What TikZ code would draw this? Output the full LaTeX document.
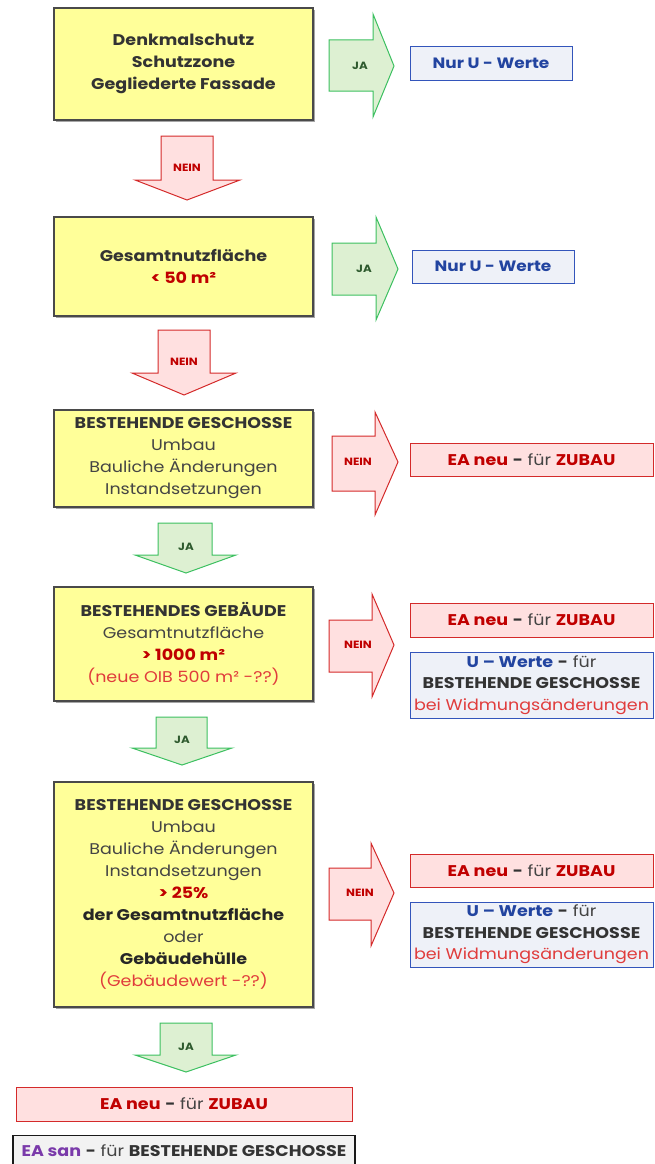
\documentclass[tikz,border=0pt]{standalone}
\usepackage{fontspec}
\setmainfont{Poppins}[FakeStretch=1.13]
\definecolor{yfill}{HTML}{FFFF99}
\definecolor{ydraw}{HTML}{4A4A4A}
\definecolor{gfill}{HTML}{DDF0D2}
\definecolor{gdraw}{HTML}{3CC060}
\definecolor{gtext}{HTML}{2E5A2E}
\definecolor{rfill}{HTML}{FFE0E0}
\definecolor{rdraw}{HTML}{D42A2A}
\definecolor{rtext}{HTML}{C00000}
\definecolor{ltred}{HTML}{E03C3C}
\definecolor{bfill}{HTML}{EEF1F8}
\definecolor{bdraw}{HTML}{3355BB}
\definecolor{btext}{HTML}{2244A0}
\definecolor{dtext}{HTML}{333333}
\definecolor{mtext}{HTML}{444444}
\definecolor{sfill}{HTML}{F2F2F2}
\definecolor{purp}{HTML}{7A3AAA}
\newcommand\bd[1]{{\bfseries #1}}
\newcommand\rb[1]{{\bfseries\color{rtext}#1}}
\newcommand\ea{\rb{EA neu} \bd{-} {\color{mtext}für} \rb{ZUBAU}}
\newcommand\uw{{\bfseries\color{btext}U – Werte} \bd{-} {\color{mtext}für}\\\bd{BESTEHENDE GESCHOSSE}\\\makebox[0pt]{\fontsize{15.5}{21.5}\selectfont\color{ltred}bei Widmungsänderungen}}
\begin{document}
\begin{tikzpicture}[x=1pt,y=-1pt,
  ybox/.style={draw=ydraw,line width=1.2pt,fill=yfill,inner sep=0pt,
    minimum width=259pt,align=center,font=\fontsize{15.5}{22}\selectfont,text=mtext},
  bbox/.style={draw=bdraw,line width=1pt,fill=bfill,inner sep=0pt,
    minimum width=162pt,minimum height=33pt,font=\fontsize{15}{20}\selectfont\bfseries,text=btext},
  pbox/.style={draw=rdraw,line width=1pt,fill=rfill,inner sep=0pt,
    minimum height=33pt,font=\fontsize{15.5}{20}\selectfont,text=dtext},
  ubox/.style={draw=bdraw,line width=1pt,fill=bfill,inner sep=0pt,align=center,
    minimum width=243pt,font=\fontsize{15.5}{21.5}\selectfont,text=dtext},
  garrow/.style={draw=gdraw,line width=1pt,fill=gfill,line join=miter},
  rarrow/.style={draw=rdraw,line width=1pt,fill=rfill,line join=miter},
  glab/.style={font=\fontsize{10.5}{11}\selectfont\bfseries,text=gtext},
  rlab/.style={font=\fontsize{10.5}{11}\selectfont\bfseries,text=rtext}]
\useasboundingbox (0,0) rectangle (654,1164);
% shadows of yellow boxes
\foreach \a/\b in {8/120,217/316,410/507,587/701,782/1007}
  \fill[black!35] (56,\a+2) rectangle (315,\b+2);
% yellow boxes
\node[ybox,minimum height=112pt,text=dtext] (y1) at (183.5,64)
  {\bd{Denkmalschutz}\\\bd{Schutzzone}\\\bd{Gegliederte Fassade}};
\node[ybox,minimum height=99pt] (y2) at (183.5,266.5)
  {\bd{\color{dtext}Gesamtnutzfläche}\\\rb{< 50 m²}};
\node[ybox,minimum height=97pt] (y3) at (183.5,458.5)
  {\bd{\color{dtext}BESTEHENDE GESCHOSSE}\\Umbau\\Bauliche Änderungen\\Instandsetzungen};
\node[ybox,minimum height=114pt] (y4) at (183.5,644)
  {\bd{\color{dtext}BESTEHENDES GEBÄUDE}\\Gesamtnutzfläche\\\rb{> 1000 m²}\\{\color{ltred}(neue OIB 500 m² -??)}};
\node[ybox,minimum height=225pt] (y5) at (183.5,894.5)
  {\bd{\color{dtext}BESTEHENDE GESCHOSSE}\\Umbau\\Bauliche Änderungen\\Instandsetzungen\\\rb{> 25\%}\\
   \bd{\color{black!85}der Gesamtnutzfläche}\\oder\\\bd{\color{black!85}Gebäudehülle}\\{\color{ltred}(Gebäudewert -??)}};
% right arrows
\draw[garrow] (329,40)--(373,40)--(373,14)--(394,66)--(373,117)--(373,91)--(329,91)--cycle;
\node[glab] (ja1) at (360,66) {JA};
\draw[garrow] (332,243)--(376,243)--(376,217)--(398,269)--(376,320)--(376,295)--(332,295)--cycle;
\node[glab] (ja2) at (364,269) {JA};
\draw[rarrow] (332,436)--(375,436)--(375,412)--(398,462)--(375,515)--(375,491)--(332,491)--cycle;
\node[rlab] (nein3) at (358,462) {NEIN};
\draw[rarrow] (329,620)--(372,620)--(372,594)--(394,645)--(372,697)--(372,672)--(329,672)--cycle;
\node[rlab] (nein4) at (358,645) {NEIN};
\draw[rarrow] (329,868)--(371,868)--(371,843)--(394,893)--(371,946)--(371,920)--(329,920)--cycle;
\node[rlab] (nein5) at (360,893) {NEIN};
% down arrows
\draw[rarrow] (161,136)--(213,136)--(213,180)--(240,180)--(187,200)--(135,180)--(161,180)--cycle;
\node[rlab] (nein1) at (187,168) {NEIN};
\draw[rarrow] (158,330)--(210,330)--(210,373)--(236,373)--(184,395)--(132,373)--(158,373)--cycle;
\node[rlab] (nein2) at (184,362) {NEIN};
\draw[garrow] (158,523)--(212,523)--(212,555)--(236,555)--(186,573)--(135,555)--(158,555)--cycle;
\node[glab] (ja3) at (186,547) {JA};
\draw[garrow] (156,717)--(207,717)--(207,748)--(232,748)--(182,765)--(132,748)--(156,748)--cycle;
\node[glab] (ja4) at (182,740) {JA};
\draw[garrow] (160,1023)--(212,1023)--(212,1055)--(236,1055)--(186,1072)--(135,1055)--(160,1055)--cycle;
\node[glab] (ja5) at (186,1047) {JA};
% result boxes
\node[bbox] (b1) at (491,63.5) {Nur U - Werte};
\node[bbox] (b2) at (493,266.5) {Nur U - Werte};
\node[pbox,minimum width=243pt] (p3) at (531.5,459.5) {\ea};
\node[pbox,minimum width=243pt,minimum height=34pt] (p4) at (531.5,620) {\ea};
\node[ubox,minimum height=66pt] (u4) at (531.5,685) {\uw};
\node[pbox,minimum width=243pt] (p5) at (531.5,870.5) {\ea};
\node[ubox,minimum height=65pt] (u5) at (531.5,934.5) {\uw};
\node[pbox,minimum width=336pt,minimum height=34pt] (p6) at (184,1104) {\ea};
\node[draw=black!90,line width=1.2pt,fill=sfill,inner sep=0pt,minimum width=342pt,minimum height=31pt,
  font=\fontsize{15.5}{20}\selectfont,text=dtext,anchor=north] (g6) at (184,1135)
  {{\bfseries\color{purp}EA san} \bd{-} {\color{mtext}für} \bd{BESTEHENDE GESCHOSSE}};
\end{tikzpicture}
\end{document}
